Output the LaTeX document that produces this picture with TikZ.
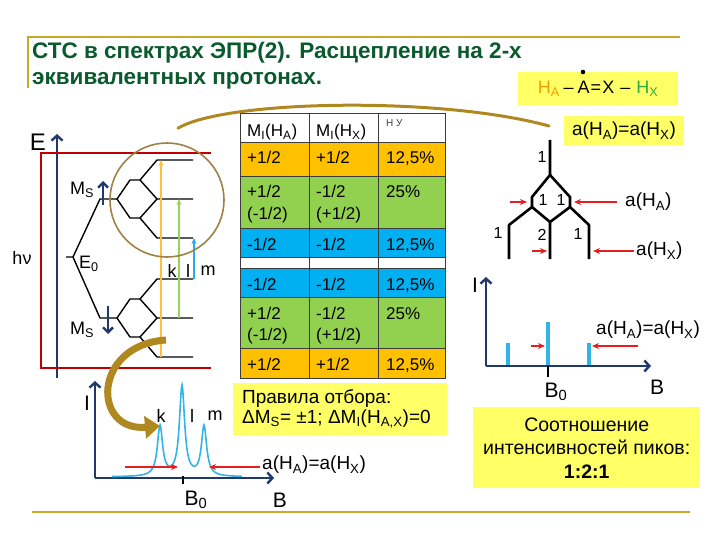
\documentclass[tikz,border=0pt]{standalone}
\usepackage{fontspec}
\setmainfont{Liberation Sans}
\usepackage{xcolor}
\usepackage{tikz}
\usetikzlibrary{arrows.meta}
\definecolor{titgreen}{RGB}{10,90,45}
\definecolor{rulegold}{RGB}{200,170,40}
\definecolor{slideyel}{RGB}{255,255,102}
\definecolor{navyax}{RGB}{31,56,110}
\definecolor{tabor}{RGB}{255,192,0}
\definecolor{tabgr}{RGB}{146,208,80}
\definecolor{tabbl}{RGB}{0,176,240}
\definecolor{tabline}{RGB}{60,60,60}
\definecolor{frred}{RGB}{192,0,0}
\definecolor{arrred}{RGB}{230,30,30}
\definecolor{callout}{RGB}{176,136,32}
\definecolor{ringbr}{RGB}{160,130,70}
\definecolor{trk}{RGB}{255,190,60}
\definecolor{trl}{RGB}{150,210,90}
\definecolor{trm}{RGB}{40,170,230}
\definecolor{specbl}{RGB}{50,180,230}
\definecolor{haor}{RGB}{240,160,0}
\definecolor{hxgr}{RGB}{50,170,60}
\newcommand\sbs[1]{\textsubscript{#1}}
\newcommand\fsz[2]{\fontsize{#1}{#2}\selectfont}

\begin{document}
\begin{tikzpicture}[x=1pt,y=-1pt,
  lbl/.style={inner sep=0pt,font=\fsz{18}{21}},
  big/.style={inner sep=0pt,font=\fsz{19}{22}},
  axlab/.style={inner sep=0pt,font=\fsz{21}{23}},
  num/.style={inner sep=0pt,font=\fsz{16}{18}},
  ybox/.style={fill=slideyel,inner sep=0pt},
  lvl/.style={line width=1.4pt,line join=round},
  tree/.style={line width=2.6pt,line join=round},
  axis/.style={navyax,line width=2.4pt,-{Straight Barb[length=5pt,width=11pt]}},
  spin/.style={navyax,line width=2.4pt,-{Straight Barb[length=5pt,width=10pt]}},
  redarr/.style={arrred,line width=1.3pt,-{Stealth[length=7pt,width=6pt]}},
  trans/.style={line width=1.6pt,-{Stealth[length=6pt,width=5pt]}},
  cell/.style={anchor=base west,inner sep=0pt,font=\fsz{17}{21}},
  stick/.style={specbl,line width=3.5pt},
  titl/.style={anchor=base west,inner sep=0pt,text=titgreen,font=\bfseries\fsz{22.5}{26}},
]
\useasboundingbox (0,0) rectangle (720,540);

% --- slide frame and title ------------------------------------------------
\draw[rulegold,line width=1.6pt] (28,88) -- (28,37) -- (680,37);
\draw[rulegold,line width=1.6pt] (32,512) -- (690,512);
\node[titl] (title1) at (32,59) {СТС в спектрах ЭПР(2). Расщепление на 2-х};
\node[titl] (title2) at (32,85) {эквивалентных протонах.};

% --- yellow boxes -----------------------------------------------------------
\node[ybox,minimum width=160pt,minimum height=33pt,font=\fsz{18}{21}] (formula) at (598,88.5)
  {\textcolor{haor}{H\sbs{A}}\hspace{4pt}–\hspace{4pt}A\hspace{1pt}=\hspace{1pt}X\hspace{6pt}–\hspace{6pt}\textcolor{hxgr}{H\sbs{X}}};
\fill (583,72) circle[radius=2.3pt]; % radical dot
\node[ybox,minimum width=120pt,minimum height=29pt,font=\fsz{19}{22}] (eqbox) at (624,131)
  {a(H\sbs{A})=a(H\sbs{X})};
\node[ybox,anchor=north west,minimum width=214pt,minimum height=52pt] (rulebox) at (233,383) {};
\node[align=left,anchor=west,inner sep=0pt,font=\fsz{19}{20}] (ruletxt) at (242,409)
  {Правила отбора:\\ΔM\sbs{S}= ±1; ΔM\sbs{I}(H\sbs{A,X})=0};
\node[ybox,anchor=north west,minimum width=227pt,minimum height=81pt] (ratiobox) at (473,407) {};
\node[align=center,inner sep=0pt,font=\fsz{19.5}{23.5}] (ratiotxt) at (ratiobox.center)
  {Соотношение\\интенсивностей пиков:\\\textbf{1:2:1}};

% --- table of M_I combinations ------------------------------------------------
\foreach \ya/\yb/\col in {113/142/white,142/176/tabor,176/228/tabgr,228/257/tabbl,
                          257/268/white,268/297/tabbl,297/348/tabgr,348/378/tabor}
  \filldraw[fill=\col,draw=tabline,line width=0.6pt] (240,\ya) rectangle (445,\yb);
\foreach \xx in {309,378}
  \draw[tabline,line width=0.6pt] (\xx,113) -- (\xx,378);
\node[cell] (h1) at (247,137) {M\sbs{I}(H\sbs{A})};
\node[cell] (h2) at (316,137) {M\sbs{I}(H\sbs{X})};
\node[anchor=base west,inner sep=0pt,font=\fsz{10}{12},text=black!75] (h3) at (386,127) {Н У};
\foreach \ya/\a/\b/\c [count=\i] in {142/{+1/2}/{+1/2}/{12,5\%},176/{+1/2}/{-1/2}/{25\%},
      228/{-1/2}/{-1/2}/{12,5\%},268/{-1/2}/{-1/2}/{12,5\%},297/{+1/2}/{-1/2}/{25\%},
      348/{+1/2}/{+1/2}/{12,5\%}} {
  \node[cell] (r\i a) at (247,\ya+22) {\a};
  \node[cell] (r\i b) at (316,\ya+22) {\b};
  \node[cell] (r\i c) at (386,\ya+22) {\c};
}
% second lines of the green rows
\foreach \ya/\i in {176/2,297/5} {
  \node[cell] (r\i aa) at (247,\ya+43) {(-1/2)};
  \node[cell] (r\i bb) at (316,\ya+43) {(+1/2)};
}

% --- energy levels ------------------------------------------------------------
\draw[axis] (57,378) -- (57,134);
\node[font=\fsz{24}{26},inner sep=0pt] (Elab) at (38,142) {E};
\draw[frred,line width=1.5pt] (211,153) -- (41,153) -- (41,368) -- (211,368);
\node[lbl] (hnu) at (22,258) {hν};
\coordinate (e0) at (66,257);
\coordinate (e0r) at (73,257);
\coordinate (msu) at (100,199);
\coordinate (msd) at (100,318);
\draw[lvl] (e0) -- (e0r) -- (msu) -- (117,199);
\draw[lvl] (e0r) -- (msd) -- (117,318);
\foreach \b/\yc in {u/199,d/318} {
  \begin{scope}[shift={(117,\yc)}]
    \draw[lvl] (0,0) -- (13,-19) -- (23,-19) -- (40,-39) -- (76,-39);
    \draw[lvl] (23,-19) -- (40,0) -- (76,0);
    \draw[lvl] (0,0) -- (13,19) -- (23,19) -- (40,0);
    \draw[lvl] (23,19) -- (40,39) -- (76,39);
    \coordinate (\b-top) at (76,-39);
    \coordinate (\b-mid) at (76,0);
    \coordinate (\b-bot) at (76,39);
  \end{scope}
}
\node[lbl] (msulab) at (82,190) {M\sbs{S}};
\node[lbl] (msdlab) at (82,330) {M\sbs{S}};
\node[lbl] (e0lab) at (89,264) {E\sbs{0}};
\draw[spin] (103,205) -- (103,181);
\draw[spin] (108,306) -- (108,334);
\coordinate (kx) at (161,0);
\coordinate (lx) at (179,0);
\coordinate (mx) at (194,0);
\draw[trans,trk] (kx |- d-bot) -- (kx |- u-top);
\draw[trans,trl] (lx |- d-mid) -- (lx |- u-mid);
\draw[trans,trm] (mx |- d-top) -- (mx |- u-bot);
\node[lbl] (klab) at (172,271) {k};
\node[lbl] (llab) at (188,271) {l};
\node[lbl] (mlab) at (208,271) {m};
\node[draw=ringbr,line width=1.6pt,circle,minimum size=114pt,inner sep=0pt] (ring) at (167,200) {};

% --- spectrum with three lines -------------------------------------------------
\draw[axis] (95,478) -- (95,381);
\draw[axis] (95,478) -- (274,478);
\node[axlab] (I1) at (87,403) {I};
\node[axlab] (B1) at (280,500) {B};
\node[axlab] (B01) at (196,500) {B\sbs{0}};
\draw[line width=1.2pt] (183,476) -- (183,484);
\draw[specbl,line width=1.6pt] plot[domain=112:242,samples=220]
  (\x,{477-50/(1+(\x-160)*(\x-160)/10)-90/(1+(\x-182)*(\x-182)/10)-50/(1+(\x-204)*(\x-204)/10)});
\coordinate (pk) at (160,426);
\node[lbl] (kpk) at (161,416) {k};
\node[lbl] (lpk) at (192,416) {l};
\node[lbl] (mpk) at (215,416) {m};
\draw[redarr] (125,467) -- (178,467);
\draw[redarr] (260,467) -- (209,467);
\node[big,anchor=west] (aeq1) at (262,465) {a(H\sbs{A})=a(H\sbs{X})};

% --- callout arrows -------------------------------------------------------------
\coordinate (eqtip) at (549,126);
\draw[callout,line width=3pt,line cap=round] ([xshift=11pt,yshift=14pt]ring.north)
  .. controls (225,100) and (440,96) .. (eqtip);
\draw[callout,line width=7pt,-{Triangle[length=15pt,width=22pt]}] (166,340)
  .. controls (92,345) and (92,432) .. (pk);

% --- splitting tree ---------------------------------------------------------------
\coordinate (t0) at (550,140);
\coordinate (t1) at (550,175);
\coordinate (ta) at (532,197);
\coordinate (ta2) at (532,207);
\coordinate (tb) at (570,197);
\coordinate (tb2) at (570,207);
\coordinate (s1) at (509,225);
\coordinate (s2) at (550,222);
\coordinate (s3) at (589,225);
\draw[tree] (t0) -- (t1) -- (ta) -- (ta2) -- (s1) -- (509,259);
\draw[tree] (t1) -- (tb) -- (tb2) -- (s3) -- (589,259);
\draw[tree] (ta2) -- (s2) -- (550,259);
\draw[tree] (tb2) -- (s2);
\node[num] (n0) at (542,157) {1};
\node[num] (n1) at (543,200) {1};
\node[num] (n2) at (561,200) {1};
\node[num] (n3) at (498,233) {1};
\node[num] (n4) at (542,235) {2};
\node[num] (n5) at (578,234) {1};
\draw[redarr] (510,202) -- (527,202);
\draw[redarr] (617,202) -- (574,202);
\node[big,anchor=west] (aha) at (625,202) {a(H\sbs{A})};
\draw[redarr] (532,251) -- (547,251);
\draw[redarr] (634,251) -- (593,251);
\node[big,anchor=west] (ahx) at (636,251) {a(H\sbs{X})};

% --- stick spectrum 1:2:1 ------------------------------------------------------------
\draw[axis] (486,366) -- (486,277);
\draw[axis] (486,366) -- (651,366);
\foreach \sx/\sy in {508/343,548/322,589/343}
  \draw[stick] (\sx,365) -- (\sx,\sy);
\draw[line width=2pt] (548,366) -- (548,377);
\node[axlab] (I2) at (475,285) {I};
\node[axlab] (B2) at (657,387) {B};
\node[axlab] (B02) at (556,392) {B\sbs{0}};
\draw[redarr] (531,346) -- (545,346);
\draw[redarr] (638,346) -- (592,346);
\node[big,anchor=west] (aeq2) at (596,330) {a(H\sbs{A})=a(H\sbs{X})};
\end{tikzpicture}
\end{document}
